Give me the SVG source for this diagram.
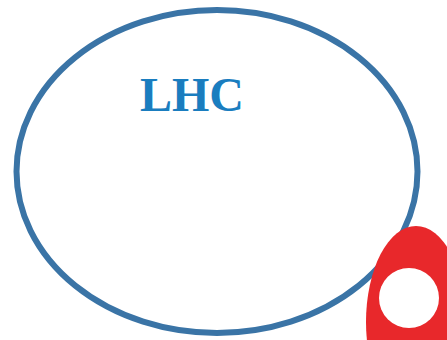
<svg xmlns="http://www.w3.org/2000/svg" width="447" height="340" viewBox="0 0 447 340">
<style>
.ring{fill:none;stroke:#3a74a6;stroke-width:6}
.lbl{font-family:'Liberation Serif','Times New Roman','DejaVu Serif',serif;font-weight:bold;font-size:48px;fill:#1a7dbf}
</style>
<rect width="447" height="340" fill="#ffffff"/>
<g id="lhc">
<ellipse class="ring" cx="217" cy="171.5" rx="200.5" ry="161.5"/>
<text class="lbl" x="140" y="111" font-family="Liberation Serif, serif">LHC</text>
</g>
<g id="detector">
<ellipse cx="416" cy="322" rx="50" ry="96" fill="#e8282b"/>
<circle cx="409" cy="298" r="30" fill="#ffffff"/>
</g>
<g id="connectors"></g>
</svg>
